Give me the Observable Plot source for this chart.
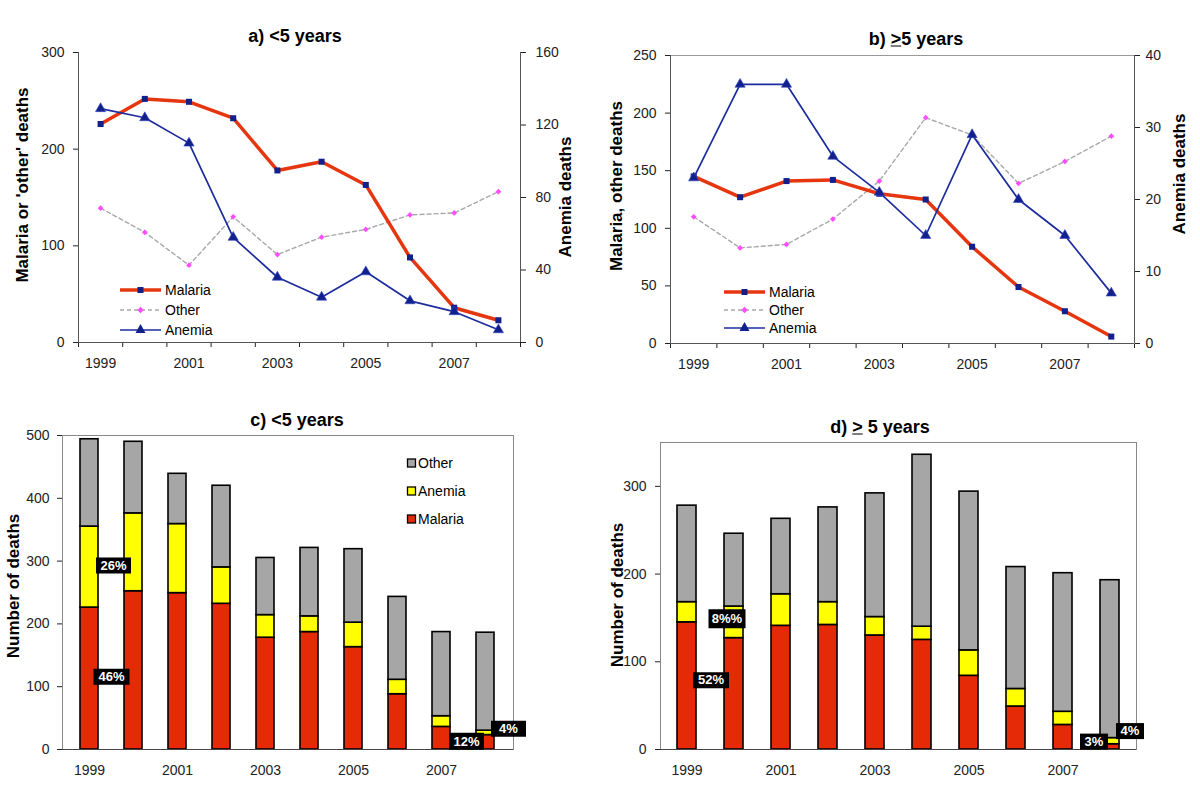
<!DOCTYPE html>
<html><head><meta charset="utf-8">
<script src="https://cdn.jsdelivr.net/npm/d3@7"></script>
<script src="https://cdn.jsdelivr.net/npm/@observablehq/plot@0.6"></script>
<style>
body{margin:0;background:#fff;font-family:"Liberation Sans",Arial,sans-serif;}
#root{position:relative;width:1200px;height:804px;overflow:hidden;background:#fff;}
.title{position:absolute;font-weight:bold;font-size:18px;transform:translate(-50%,-50%);white-space:nowrap;color:#000;}
.ylab{position:absolute;font-weight:bold;font-size:17px;transform:translate(-50%,-50%) rotate(-90deg);white-space:nowrap;color:#000;}
.chart{position:absolute;}
</style></head><body><div id="root"></div>
<script>
// ---------- data ----------
const years = [1999, 2000, 2001, 2002, 2003, 2004, 2005, 2006, 2007, 2008];
const labelYears = [1999, 2001, 2003, 2005, 2007];
const causes = ["Malaria", "Anemia", "Other"];

// < 5 years
const malariaU5 = [226, 252, 249, 232, 178, 187, 163, 88, 36, 23];
const anemiaU5  = [129, 124, 110, 58, 36, 25, 39, 23, 17, 7];
const otherU5   = [139, 114, 80, 130, 91, 109, 117, 132, 134, 156];

// >= 5 years
const malariaO5 = [145, 127, 141, 142, 130, 125, 84, 49, 28, 6];
const anemiaO5  = [23, 36, 36, 26, 21, 15, 29, 20, 15, 7];
const otherO5   = [110, 83, 86, 108, 141, 196, 181, 139, 158, 180];

// percentage annotations (anchor year, anchor value, text)
const pctYearsU5 = [1999, 1999, 2008, 2008];
const pctValuesU5 = [293, 116, 13, 33];
const pctTextU5 = ["26%", "46%", "12%", "4%"];
const pctYearsO5 = [1999, 1999, 2008, 2008];
const pctValuesO5 = [79, 149, 9, 21];
const pctTextO5 = ["52%", "8%%", "3%", "4%"];

// ---------- styling ----------
const RED_LINE = "#e5360f", NAVY = "#12208c", BLUE = "#1c2c9e", GRAY_DASH = "#a8a8a8", MAGENTA = "#ff4cff";
const RED_BAR = "#e42a06", YELLOW = "#ffff00", GRAY_BAR = "#a6a6a6";
const baseStyle = {fontSize: "14px", fontFamily: "'Liberation Sans', Arial, sans-serif", color: "#222", background: "transparent", overflow: "visible"};
const root = document.getElementById("root");
const yearFmt = (d) => String(d);

function place(el, left, top) {
  el.classList.add("chart");
  el.style.left = left + "px";
  el.style.top = top + "px";
  root.appendChild(el);
}
function addText(cls, html, x, y) {
  const d = document.createElement("div");
  d.className = cls; d.innerHTML = html;
  d.style.left = x + "px"; d.style.top = y + "px";
  root.appendChild(d);
}
const rows = (vals) => years.map((year, i) => ({year, value: vals[i]}));

// ---------- line panels ----------
const xDomain = [years[0] - 0.5, years[years.length - 1] + 0.5];
const boundaries = d3.range(xDomain[0], xDomain[1] + 0.01, 1);

function linePanel(o) {
  const common = {width: o.width, height: o.height, marginLeft: o.ml, marginRight: o.mr, marginTop: o.mt, marginBottom: o.mb, style: baseStyle};
  const base = Plot.plot({
    ...common,
    x: {domain: xDomain, ticks: boundaries, tickFormat: () => "", tickSize: 5, label: null},
    y: {domain: o.yDomain, ticks: o.yTicks, tickSize: 5, tickPadding: o.ytp, label: null},
    marks: [
      o.frame ? Plot.frame({stroke: "#999"}) : null,
      Plot.ruleY([o.yDomain[0]], {stroke: "#555"}),
      Plot.ruleX(xDomain, {stroke: "#555"}),
      Plot.line(rows(o.other), {x: "year", y: "value", stroke: GRAY_DASH, strokeWidth: 1.4, strokeDasharray: "4,3"}),
      Plot.dot(rows(o.other), {x: "year", y: "value", symbol: "diamond2", r: 2.6, fill: MAGENTA}),
      Plot.line(rows(o.malaria), {x: "year", y: "value", stroke: RED_LINE, strokeWidth: 3.5}),
      Plot.dot(rows(o.malaria), {x: "year", y: "value", symbol: "square", r: 3.4, fill: NAVY})
    ]
  });
  const over = Plot.plot({
    ...common,
    x: {domain: xDomain, ticks: labelYears, tickFormat: yearFmt, tickSize: 0, tickPadding: 16, label: null},
    y: {domain: o.y2Domain, ticks: o.y2Ticks, axis: "right", tickSize: 5, tickPadding: o.y2tp, label: null},
    marks: [
      Plot.line(rows(o.anemia), {x: "year", y: "value", stroke: BLUE, strokeWidth: 1.7}),
      Plot.dot(rows(o.anemia), {x: "year", y: "value", symbol: "triangle", r: 3.8, fill: NAVY, stroke: "#3446c0", strokeWidth: 0.6})
    ]
  });
  place(base, o.left, o.top);
  place(over, o.left, o.top);
}

linePanel({left: 0, top: 0, width: 600, height: 390, ml: 78, mr: 80, mt: 52, mb: 48,
  yDomain: [0, 300], yTicks: [0, 100, 200, 300], ytp: 9,
  y2Domain: [0, 160], y2Ticks: [0, 40, 80, 120, 160], y2tp: 10,
  malaria: malariaU5, other: otherU5, anemia: anemiaU5, frame: false});

linePanel({left: 600, top: 0, width: 600, height: 390, ml: 70, mr: 66, mt: 55, mb: 47,
  yDomain: [0, 250], yTicks: [0, 50, 100, 150, 200, 250], ytp: 9,
  y2Domain: [0, 40], y2Ticks: [0, 10, 20, 30, 40], y2tp: 6,
  malaria: malariaO5, other: otherO5, anemia: anemiaO5, frame: true});

// ---------- stacked bar panels ----------
function rectSymbol(w, h) {
  return {draw(ctx) { ctx.moveTo(-w / 2, -h / 2); ctx.lineTo(w / 2, -h / 2); ctx.lineTo(w / 2, h / 2); ctx.lineTo(-w / 2, h / 2); ctx.closePath(); }};
}

function barPanel(o) {
  const data = [];
  years.forEach((year, i) => {
    data.push({year, cause: "Malaria", value: o.malaria[i]});
    data.push({year, cause: "Anemia", value: o.anemia[i]});
    data.push({year, cause: "Other", value: o.other[i]});
  });
  const labels = o.pctYears.map((year, i) => ({year, value: o.pctValues[i], text: o.pctText[i]}));
  const labelMarks = [];
  labels.forEach((l, i) => {
    const s = o.boxSizes[i];
    labelMarks.push(Plot.dot([l], {x: "year", y: "value", dx: o.offsets[i], symbol: rectSymbol(s[0], s[1]), r: 5, fill: "#000"}));
    labelMarks.push(Plot.text([l], {x: "year", y: "value", dx: o.offsets[i], text: "text", fill: "#fff", fontWeight: "bold", fontSize: 13}));
  });
  const chart = Plot.plot({
    width: o.width, height: o.height, marginLeft: o.ml, marginRight: o.mr, marginTop: o.mt, marginBottom: o.mb,
    style: baseStyle,
    x: {type: "band", domain: years, paddingInner: 0.59, paddingOuter: 0.31, ticks: labelYears, tickFormat: yearFmt, tickSize: 0, tickPadding: 16, label: null},
    y: {domain: o.yDomain, ticks: o.yTicks, tickSize: 5, tickPadding: o.ytp, label: null},
    color: {domain: causes, range: [RED_BAR, YELLOW, GRAY_BAR]},
    marks: [
      Plot.frame({stroke: "#888"}),
      Plot.barY(data, {x: "year", y: "value", fill: "cause", stroke: "#000", strokeWidth: 1.6}),
      Plot.ruleY([0], {stroke: "#444"}),
      ...labelMarks
    ]
  });
  place(chart, o.left, o.top);
}

barPanel({left: 0, top: 400, width: 600, height: 404, ml: 62, mr: 87, mt: 35, mb: 55,
  yDomain: [0, 500], yTicks: [0, 100, 200, 300, 400, 500], ytp: 8,
  malaria: malariaU5, anemia: anemiaU5, other: otherU5,
  pctYears: pctYearsU5, pctValues: pctValuesU5, pctText: pctTextU5,
  offsets: [24, 22, -19, 23], boxSizes: [[35, 16], [36, 16], [35, 17], [35, 16]]});

barPanel({left: 600, top: 400, width: 600, height: 404, ml: 60, mr: 64, mt: 42, mb: 55,
  yDomain: [0, 350], yTicks: [0, 100, 200, 300], ytp: 9,
  malaria: malariaO5, anemia: anemiaO5, other: otherO5,
  pctYears: pctYearsO5, pctValues: pctValuesO5, pctText: pctTextO5,
  offsets: [24, 40, -16, 20], boxSizes: [[36, 16], [37, 19], [28, 16], [28, 16]]});

// ---------- titles & axis labels ----------
addText("title", "a) &lt;5 years", 295, 36);
addText("title", "b) <u>&gt;</u>5 years", 916, 39);
addText("title", "c) &lt;5 years", 297, 420);
addText("title", "d) <u>&gt;</u> 5 years", 880, 427);
addText("ylab", "Malaria or 'other' deaths", 23, 185);
addText("ylab", "Anemia deaths", 566, 197);
addText("ylab", "Malaria, other deaths", 617, 186);
addText("ylab", "Anemia deaths", 1180, 174);
addText("ylab", "Number of deaths", 14, 586);
addText("ylab", "Number of deaths", 618, 595);

// ---------- legends ----------
const NS = "http://www.w3.org/2000/svg";
const lg = document.createElementNS(NS, "svg");
lg.setAttribute("width", 1200); lg.setAttribute("height", 804);
lg.style.position = "absolute"; lg.style.left = "0"; lg.style.top = "0"; lg.style.pointerEvents = "none";
lg.style.fontFamily = "'Liberation Sans', Arial, sans-serif";
let svgStr = "";
function lineLegend(x0, x1, tx, ys) {
  const cx = (x0 + x1) / 2;
  svgStr += `<line x1="${x0}" x2="${x1}" y1="${ys[0]}" y2="${ys[0]}" stroke="${RED_LINE}" stroke-width="3.5"/>`;
  svgStr += `<rect x="${cx - 3}" y="${ys[0] - 3}" width="6" height="6" fill="${NAVY}"/>`;
  svgStr += `<text x="${tx}" y="${ys[0] + 5}" font-size="14">Malaria</text>`;
  svgStr += `<line x1="${x0}" x2="${x1}" y1="${ys[1]}" y2="${ys[1]}" stroke="${GRAY_DASH}" stroke-width="1.4" stroke-dasharray="4,3"/>`;
  svgStr += `<path d="M${cx},${ys[1] - 3.2}L${cx + 3.2},${ys[1]}L${cx},${ys[1] + 3.2}L${cx - 3.2},${ys[1]}Z" fill="${MAGENTA}"/>`;
  svgStr += `<text x="${tx}" y="${ys[1] + 5}" font-size="14">Other</text>`;
  svgStr += `<line x1="${x0}" x2="${x1}" y1="${ys[2]}" y2="${ys[2]}" stroke="${BLUE}" stroke-width="1.7"/>`;
  svgStr += `<path d="M${cx},${ys[2] - 6}L${cx + 5},${ys[2] + 3}L${cx - 5},${ys[2] + 3}Z" fill="${NAVY}"/>`;
  svgStr += `<text x="${tx}" y="${ys[2] + 5}" font-size="14">Anemia</text>`;
}
lineLegend(120, 161, 165, [290, 310, 330]);
lineLegend(724, 765, 769, [292, 310, 328]);
[["Other", GRAY_BAR, 463], ["Anemia", YELLOW, 491], ["Malaria", RED_BAR, 519]].forEach(([t, c, y]) => {
  svgStr += `<rect x="407.5" y="${y - 4}" width="8" height="8" fill="${c}" stroke="#000" stroke-width="1.3"/>`;
  svgStr += `<text x="418" y="${y + 5}" font-size="14">${t}</text>`;
});
lg.innerHTML = svgStr;
root.appendChild(lg);
</script>
</body></html>
